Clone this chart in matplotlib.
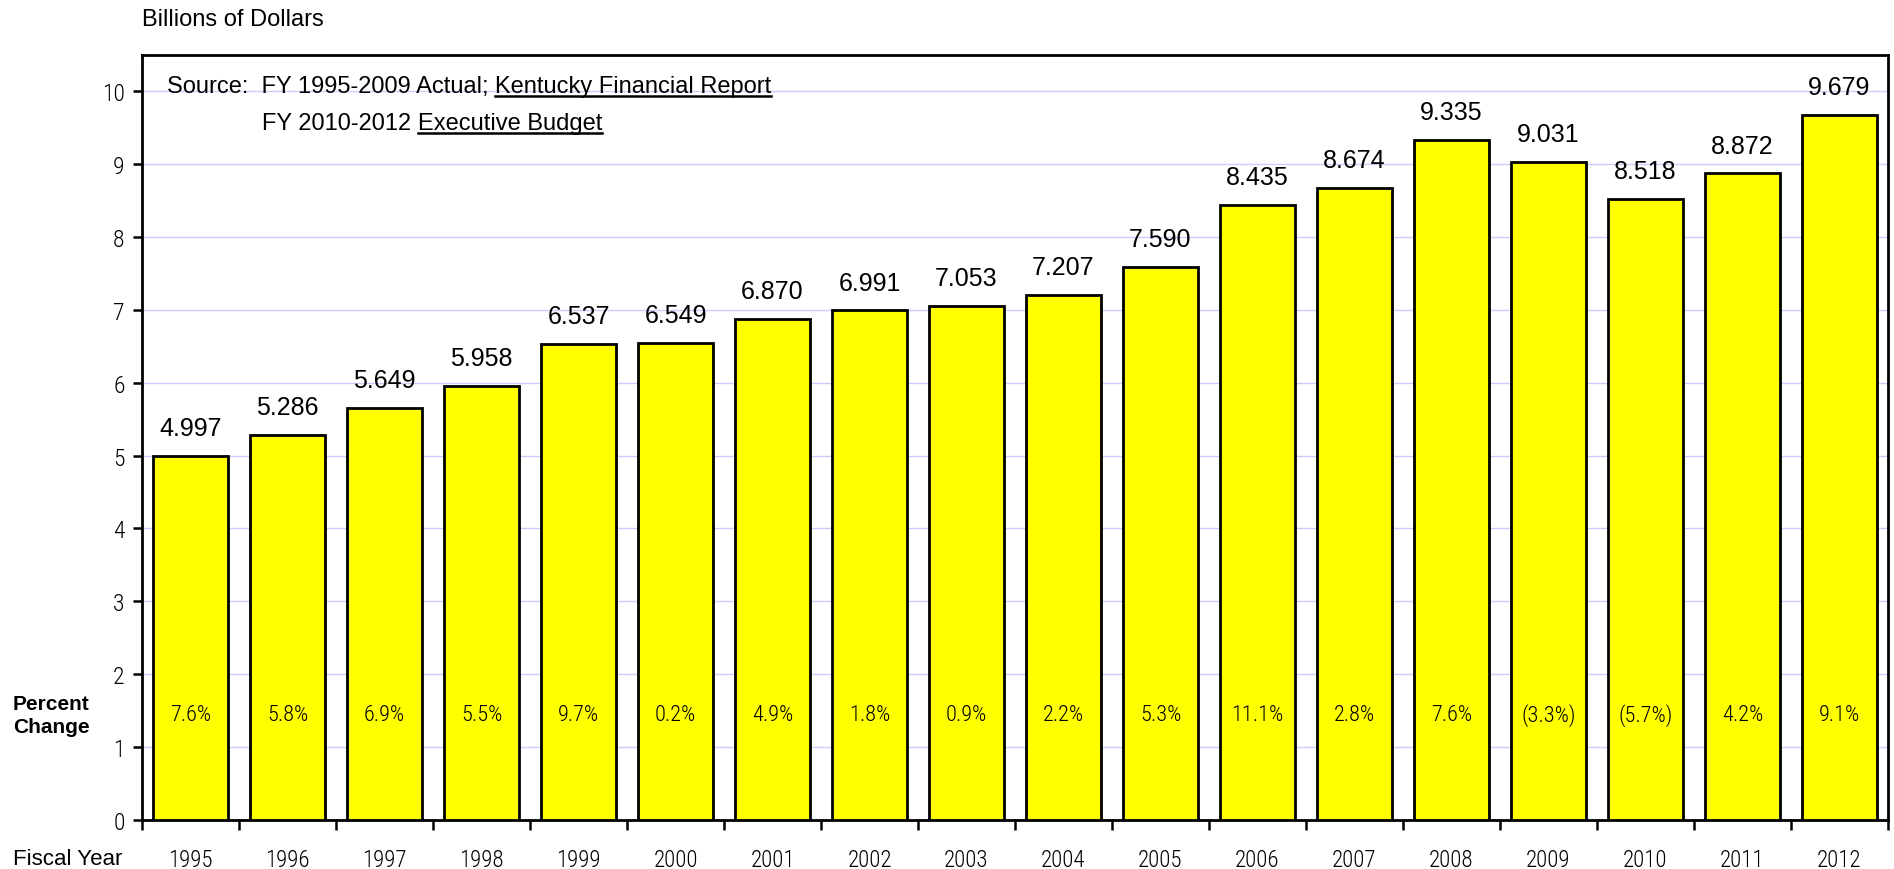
import matplotlib
matplotlib.use("Agg")
import matplotlib.pyplot as plt

years = ["1995", "1996", "1997", "1998", "1999", "2000", "2001", "2002", "2003",
         "2004", "2005", "2006", "2007", "2008", "2009", "2010", "2011", "2012"]
revenue = [4.997, 5.286, 5.649, 5.958, 6.537, 6.549, 6.870, 6.991, 7.053,
           7.207, 7.590, 8.435, 8.674, 9.335, 9.031, 8.518, 8.872, 9.679]
pct_change = ["7.6%", "5.8%", "6.9%", "5.5%", "9.7%", "0.2%", "4.9%", "1.8%", "0.9%",
              "2.2%", "5.3%", "11.1%", "2.8%", "7.6%", "(3.3%)", "(5.7%)", "4.2%", "9.1%"]
yticks = list(range(0, 11))

narrow = ["Roboto Condensed", "DejaVu Sans"]
plt.rcParams["font.family"] = ["Liberation Sans", "DejaVu Sans"]

fig = plt.figure(figsize=(18.94, 8.70), dpi=100)
ax = fig.add_axes([0.075, 0.0563, 0.9218, 0.8797])

x = list(range(len(years)))
ax.bar(x, revenue, width=0.77, color="#ffff00", edgecolor="black", linewidth=2, zorder=3)

for xi, v in zip(x, revenue):
    ax.annotate(f"{v:.3f}", (xi, v), xytext=(0, 20), textcoords="offset points",
                ha="center", va="center", fontsize=18, zorder=4)
for xi, p in zip(x, pct_change):
    ax.text(xi, 1.45, p, ha="center", va="center", fontsize=16, family=narrow,
            fontweight="light", zorder=4)

ax.set_xlim(-0.5, len(years) - 0.5)
ax.set_ylim(0, 10.5)
ax.set_yticks(yticks)
ax.set_yticklabels([str(t) for t in yticks], family=narrow, fontweight="light", fontsize=17)
ax.yaxis.grid(True, color="#ccccff", linewidth=1, zorder=0)
ax.set_axisbelow(True)

ax.set_xticks(x)
ax.set_xticklabels(years, family=narrow, fontweight="light", fontsize=16.5)
ax.set_xticks([i - 0.5 for i in range(len(years) + 1)], minor=True)
ax.tick_params(axis="x", which="major", length=0, pad=20)
ax.tick_params(axis="x", which="minor", length=7, width=1.8, direction="out")
ax.tick_params(axis="y", length=6.5, width=1.8, direction="out", pad=6)
for s in ax.spines.values():
    s.set_linewidth(2)

fig.text(0.075, 0.977, "Billions of Dollars", ha="left", va="center", fontsize=17)
fig.text(0.027, 0.177, "Percent\nChange", ha="center", va="center", fontsize=15,
         fontweight="bold", linespacing=1.3)
fig.text(0.036, 0.012, "Fiscal Year", ha="center", va="center", fontsize=16)

# source note with underlined report names
fig.canvas.draw()
renderer = fig.canvas.get_renderer()
inv = fig.transFigure.inverted()


def underlined(fx, fy, plain, under):
    t1 = fig.text(fx, fy, plain, ha="left", va="baseline", fontsize=17)
    bb = t1.get_window_extent(renderer)
    x1 = inv.transform((bb.x1, bb.y0))[0]
    t2 = fig.text(x1, fy, under, ha="left", va="baseline", fontsize=17)
    bb2 = t2.get_window_extent(renderer)
    (ux0, uy), (ux1, _) = inv.transform([(bb2.x0, bb2.y0 + 1), (bb2.x1, bb2.y0)])
    fig.add_artist(plt.Line2D([ux0, ux1], [uy, uy], color="black", linewidth=1.8,
                              transform=fig.transFigure))


underlined(0.088, 0.893, "Source:  FY 1995-2009 Actual; ", "Kentucky Financial Report")
underlined(0.1385, 0.851, "FY 2010-2012 ", "Executive Budget")

fig.savefig("out.png", dpi=100)
